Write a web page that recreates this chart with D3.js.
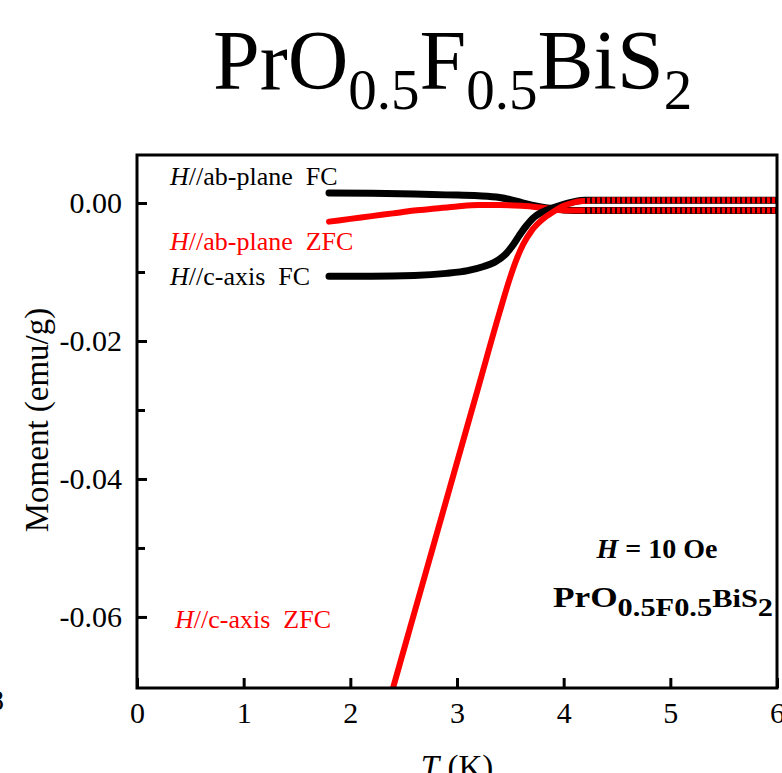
<!DOCTYPE html>
<html>
<head>
<meta charset="utf-8">
<script src="https://cdn.jsdelivr.net/npm/d3@7/dist/d3.min.js"></script>
<style>
  html, body { margin: 0; padding: 0; background: #fff; }
  svg { display: block; }
  text { font-family: "Liberation Serif", "Times New Roman", serif; }
</style>
</head>
<body>
<svg id="chart" width="782" height="773"></svg>
<script>
// ---- data ----
const xTicks = [0, 1, 2, 3, 4, 5, 6];
const xTickLabels = ["0", "1", "2", "3", "4", "5", "6"];
const yMajorTicks = [0, -0.02, -0.04, -0.06];
const yTickLabels = ["0.00", "-0.02", "-0.04", "-0.06"];
const yMinorTicks = [-0.01, -0.03, -0.05];

const abFC_T = [1.8, 2.2, 2.6, 2.9, 3.2, 3.4, 3.5, 3.6, 3.7, 3.8, 3.9, 4.0, 4.2, 4.6, 5.0, 6.0];
const abFC_M = [0.00145, 0.00142, 0.00132, 0.00118, 0.00105, 0.0008, 0.0005, 0.0001, -0.0003, -0.0006, -0.0008, -0.001, -0.0011, -0.0011, -0.0011, -0.0011];

const abZFC_T = [1.8, 2.0, 2.2, 2.4, 2.6, 2.8, 3.0, 3.2, 3.4, 3.6, 3.75, 3.85, 3.95, 4.1, 4.4, 5.0, 6.0];
const abZFC_M = [-0.0027, -0.0023, -0.0019, -0.0015, -0.0011, -0.0008, -0.0005, -0.0003, -0.0003, -0.0004, -0.0006, -0.0008, -0.001, -0.0011, -0.0011, -0.0011, -0.0011];

const cFC_T = [1.8, 2.2, 2.6, 2.9, 3.1, 3.25, 3.35, 3.45, 3.52, 3.58, 3.65, 3.72, 3.8, 3.9, 4.0, 4.1, 4.2, 4.5, 5.0, 6.0];
const cFC_M = [-0.0106, -0.0106, -0.0105, -0.0102, -0.0098, -0.0092, -0.0086, -0.0075, -0.0062, -0.0048, -0.0033, -0.0021, -0.0013, -0.0007, -0.0002, 0.0002, 0.0004, 0.0004, 0.0004, 0.0004];

const cZFC_T = [2.3, 2.4, 2.6, 2.8, 3.0, 3.2, 3.4, 3.5, 3.56, 3.62, 3.7, 3.8, 3.9, 4.0, 4.1, 4.2, 4.3, 4.6, 5.0, 6.0];
const cZFC_M = [-0.0758, -0.0703, -0.0594, -0.0485, -0.0376, -0.0267, -0.0158, -0.0107, -0.0081, -0.006, -0.004, -0.0024, -0.0013, -0.0004, 0.0001, 0.0003, 0.0004, 0.0004, 0.0004, 0.0004];

// ---- layout ----
const L = 137, R = 777, T = 155, B = 688;
const svg = d3.select("#chart");
const x = d3.scaleLinear().domain([0, 6]).range([L, R]);
const y = d3.scaleLinear().domain([-0.0703, 0.00696]).range([B, T]);

// title
const title = svg.append("text").attr("x", 213).attr("y", 89)
  .attr("font-size", 84).attr("fill", "#000");
title.append("tspan").text("PrO");
title.append("tspan").attr("font-size", 57).attr("dy", 20).text("0.5");
title.append("tspan").attr("dy", -20).text("F");
title.append("tspan").attr("font-size", 57).attr("dy", 20).text("0.5");
title.append("tspan").attr("dy", -20).text("BiS");
title.append("tspan").attr("font-size", 57).attr("dy", 20).text("2");

// clip
svg.append("defs").append("clipPath").attr("id", "clip")
  .append("rect").attr("x", L).attr("y", T).attr("width", R - L).attr("height", B - T);

const line = d3.line().x(d => x(d[0])).y(d => y(d[1])).curve(d3.curveMonotoneX);
const series = [
  { T: abFC_T, M: abFC_M, color: "#000000", w: 7 },
  { T: abZFC_T, M: abZFC_M, color: "#ff0000", w: 6 },
  { T: cFC_T, M: cFC_M, color: "#000000", w: 7 },
  { T: cZFC_T, M: cZFC_M, color: "#ff0000", w: 6 }
];
const g = svg.append("g").attr("clip-path", "url(#clip)");
series.forEach(s => {
  g.append("path").datum(s.T.map((t, i) => [t, s.M[i]]))
    .attr("d", line).attr("fill", "none")
    .attr("stroke", s.color).attr("stroke-width", s.w)
    .attr("stroke-linecap", "round").attr("stroke-linejoin", "round");
});
// black symbols interleaved with red ones in the high-temperature bands
[series[0], series[2]].forEach(s => {
  const pts = s.T.map((t, i) => [t, s.M[i]]).filter(d => d[0] >= 4.2);
  g.append("path").datum(pts)
    .attr("d", line).attr("fill", "none")
    .attr("stroke", "#000").attr("stroke-width", 6)
    .attr("stroke-dasharray", "2,3").attr("opacity", 0.85);
});

// axes
const xAxis = d3.axisBottom(x).tickValues(xTicks)
  .tickFormat((d, i) => xTickLabels[i]).tickSize(-10).tickPadding(14);
const gx = svg.append("g").attr("transform", `translate(0,${B})`).call(xAxis);
gx.select(".domain").remove();
gx.selectAll(".tick line").attr("stroke", "#000").attr("stroke-width", 3);
gx.selectAll(".tick text").attr("font-size", 30).attr("fill", "#000")
  .attr("font-family", "Liberation Serif, Times New Roman, serif");

const yAxis = d3.axisLeft(y).tickValues(yMajorTicks)
  .tickFormat((d, i) => yTickLabels[i]).tickSize(-10).tickPadding(15);
const gy = svg.append("g").attr("transform", `translate(${L},0)`).call(yAxis);
gy.select(".domain").remove();
gy.selectAll(".tick line").attr("stroke", "#000").attr("stroke-width", 3);
gy.selectAll(".tick text").attr("font-size", 30).attr("fill", "#000")
  .attr("font-family", "Liberation Serif, Times New Roman, serif");

const gyMinor = svg.append("g").attr("transform", `translate(${L},0)`)
  .call(d3.axisLeft(y).tickValues(yMinorTicks).tickFormat("").tickSize(-8));
gyMinor.select(".domain").remove();
gyMinor.selectAll(".tick line").attr("stroke", "#000").attr("stroke-width", 3);

// frame
svg.append("rect").attr("x", L).attr("y", T).attr("width", R - L).attr("height", B - T)
  .attr("fill", "none").attr("stroke", "#000").attr("stroke-width", 3);

// axis titles
svg.append("text").attr("transform", "translate(48,420) rotate(-90)")
  .attr("text-anchor", "middle").attr("font-size", 33).attr("fill", "#000")
  .text("Moment (emu/g)");
const xt = svg.append("text").attr("x", 457).attr("y", 778)
  .attr("text-anchor", "middle").attr("font-size", 33).attr("fill", "#000");
xt.append("tspan").attr("font-style", "italic").text("T");
xt.append("tspan").text(" (K)");

// partial label from neighbouring panel
svg.append("text").attr("x", 4).attr("y", 710).attr("text-anchor", "end")
  .attr("font-size", 30).attr("fill", "#000").text("8");

// legend labels
const labels = [
  { txt: "//ab-plane\u00a0\u00a0FC", x: 170, y: 185, c: "#000000" },
  { txt: "//ab-plane\u00a0\u00a0ZFC", x: 170, y: 250, c: "#ff0000" },
  { txt: "//c-axis\u00a0\u00a0FC", x: 170, y: 285, c: "#000000" },
  { txt: "//c-axis\u00a0\u00a0ZFC", x: 175, y: 628, c: "#ff0000" }
];
labels.forEach(l => {
  const t = svg.append("text").attr("x", l.x).attr("y", l.y)
    .attr("font-size", 26).attr("fill", l.c);
  t.append("tspan").attr("font-style", "italic").text("H");
  t.append("tspan").text(l.txt);
});

// annotation
const a1 = svg.append("text").attr("x", 657).attr("y", 558).attr("text-anchor", "middle")
  .attr("font-size", 28).attr("font-weight", "bold").attr("fill", "#000");
a1.append("tspan").attr("font-style", "italic").text("H");
a1.append("tspan").text(" = 10 Oe");

const a2 = svg.append("text").attr("x", 553).attr("y", 607)
  .attr("font-size", 29).attr("font-weight", "bold").attr("fill", "#000")
  .attr("textLength", 220).attr("lengthAdjust", "spacingAndGlyphs");
a2.append("tspan").text("PrO");
a2.append("tspan").attr("font-size", 25).attr("dy", 9).text("0.5F0.5");
a2.append("tspan").attr("font-size", 25).attr("dy", -9).text("BiS");
a2.append("tspan").attr("font-size", 25).attr("dy", 9).text("2");
</script>
</body>
</html>
